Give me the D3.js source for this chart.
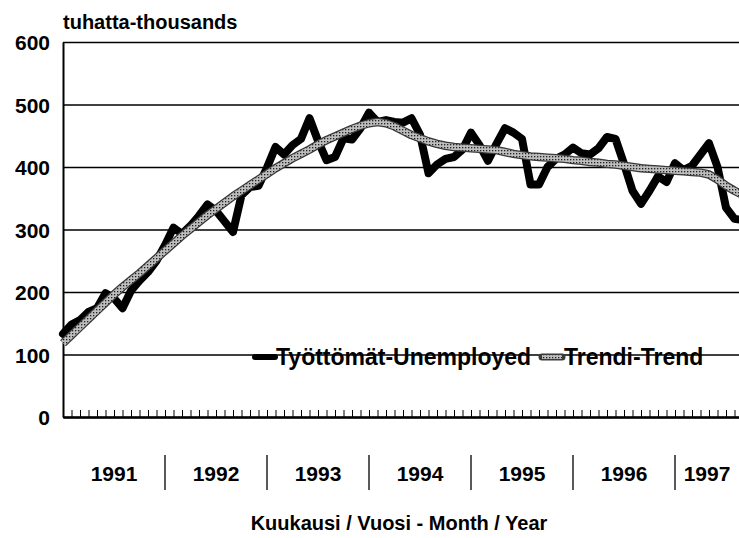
<!DOCTYPE html>
<html>
<head>
<meta charset="utf-8">
<script src="https://cdn.jsdelivr.net/npm/d3@7"></script>
<style>
  body { margin: 0; background: #fff; }
  text { font-family: "Liberation Sans", Arial, sans-serif; font-weight: bold; fill: #000; }
</style>
</head>
<body>
<svg id="chart" width="739" height="538"></svg>
<script>
// monthly values, Jan 1991 .. Sep 1997 (thousands)
const unemployed = [
  133, 148, 155, 168, 174, 198, 190, 174, 202, 218, 232, 250,   // 1991
  275, 303, 293, 306, 322, 340, 330, 313, 296, 355, 368, 370,   // 1992
  399, 432, 420, 435, 445, 478, 442, 411, 416, 446, 444, 462,   // 1993
  487, 472, 475, 472, 471, 478, 452, 390, 404, 413, 416, 428,   // 1994
  455, 435, 410, 437, 462, 455, 445, 372, 372, 400, 413, 420,   // 1995
  431, 422, 420, 430, 448, 445, 405, 362, 341, 362, 385, 376,   // 1996
  406, 395, 402, 420, 438, 400, 335, 317, 315                    // 1997
];
const trend = [
  118, 131, 144, 157, 170, 183, 196, 208, 219, 230, 242, 254,
  266, 278, 290, 301, 312, 323, 333, 343, 353, 362, 371, 380,
  389, 398, 406, 414, 421, 428, 436, 443, 449, 455, 461, 466,
  470, 472, 470, 465, 458, 451, 446, 441, 437, 434, 432, 431,
  430, 429, 428, 427, 424, 421, 419, 417, 416, 415, 414, 413,
  411, 410, 408, 407, 405, 404, 402, 400, 398, 397, 396, 395,
  394, 393, 392, 391, 388, 380, 370, 362, 355
];
const years = ["1991", "1992", "1993", "1994", "1995", "1996", "1997"];
const yTicks = [0, 100, 200, 300, 400, 500, 600];

const W = 739, H = 538;
const plotLeft = 63, plotRight = 743, plotTop = 42, plotBottom = 417;

const svg = d3.select("#chart");

const x = d3.scaleLinear().domain([0, 80]).range([plotLeft, plotRight]);
const y = d3.scaleLinear().domain([0, 600]).range([plotBottom, plotTop]);

// stippled fill for the trend band
const pat = svg.append("defs").append("pattern")
    .attr("id", "dots")
    .attr("width", 3).attr("height", 3)
    .attr("patternUnits", "userSpaceOnUse");
pat.append("rect").attr("width", 3).attr("height", 3).attr("fill", "#bdbdbd");
pat.append("rect").attr("width", 1.3).attr("height", 1.3).attr("fill", "#222");

// gridlines
const grid = svg.append("g")
    .attr("transform", `translate(${plotLeft},0)`)
    .call(d3.axisLeft(y).tickValues(yTicks).tickSize(-(plotRight - plotLeft)).tickFormat(""));
grid.select(".domain").remove();
grid.selectAll("line").attr("stroke", "#000").attr("stroke-width", 1.7);

// y labels
const yAxis = svg.append("g")
    .attr("transform", `translate(${plotLeft},0)`)
    .call(d3.axisLeft(y).tickValues(yTicks).tickSize(0).tickPadding(13));
yAxis.select(".domain").attr("stroke", "#000").attr("stroke-width", 2);
yAxis.selectAll("text")
    .style("font-family", "'Liberation Sans', Arial, sans-serif")
    .style("font-weight", "bold")
    .style("font-size", "21px")
    .attr("dy", "0.36em");

// month ticks along the base
const xAxis = svg.append("g")
    .attr("transform", `translate(0,${plotBottom})`)
    .call(d3.axisBottom(x).tickValues(d3.range(0, 81)).tickSizeInner(-7).tickSizeOuter(0).tickFormat(""));
xAxis.select(".domain").attr("stroke", "#000").attr("stroke-width", 2.5);
xAxis.selectAll("line").attr("stroke", "#000").attr("stroke-width", 1);

// year labels and separators
const yearG = svg.append("g");
years.forEach((yr, k) => {
  const x0 = x(k * 12), x1 = Math.min(x(k * 12 + 12), W);
  yearG.append("text")
      .attr("x", (x0 + x1) / 2)
      .attr("y", 481)
      .attr("text-anchor", "middle")
      .style("font-size", "21px")
      .text(yr);
  if (k > 0) {
    yearG.append("line")
        .attr("x1", x0).attr("x2", x0)
        .attr("y1", 455).attr("y2", 490)
        .attr("stroke", "#000").attr("stroke-width", 1.3);
  }
});

// lines
const line = d3.line()
    .x((d, i) => x(i))
    .y(d => y(d));

svg.append("path")
    .datum(unemployed)
    .attr("d", line)
    .attr("fill", "none")
    .attr("stroke", "#000")
    .attr("stroke-width", 8)
    .attr("stroke-linejoin", "round")
    .attr("stroke-linecap", "round");

svg.append("path")
    .datum(trend)
    .attr("d", line)
    .attr("fill", "none")
    .attr("stroke", "#3a3a3a")
    .attr("stroke-width", 8.5)
    .attr("stroke-linejoin", "round");
svg.append("path")
    .datum(trend)
    .attr("d", line)
    .attr("fill", "none")
    .attr("stroke", "url(#dots)")
    .attr("stroke-width", 6)
    .attr("stroke-linejoin", "round");

// legend
const lg = svg.append("g");
lg.append("line")
    .attr("x1", 255).attr("x2", 275).attr("y1", 357).attr("y2", 357)
    .attr("stroke", "#000").attr("stroke-width", 6).attr("stroke-linecap", "round");
lg.append("text").attr("x", 276).attr("y", 365).style("font-size", "23px").text("Työttömät-Unemployed");
lg.append("line")
    .attr("x1", 542).attr("x2", 562).attr("y1", 357).attr("y2", 357)
    .attr("stroke", "#3a3a3a").attr("stroke-width", 7).attr("stroke-linecap", "round");
lg.append("line")
    .attr("x1", 542).attr("x2", 562).attr("y1", 357).attr("y2", 357)
    .attr("stroke", "url(#dots)").attr("stroke-width", 4);
lg.append("text").attr("x", 564).attr("y", 365).style("font-size", "23px").text("Trendi-Trend");

// titles
svg.append("text").attr("x", 63).attr("y", 29).style("font-size", "20px").text("tuhatta-thousands");
svg.append("text")
    .attr("x", 399).attr("y", 530)
    .attr("text-anchor", "middle")
    .style("font-size", "20px")
    .text("Kuukausi / Vuosi - Month / Year");
</script>
</body>
</html>
